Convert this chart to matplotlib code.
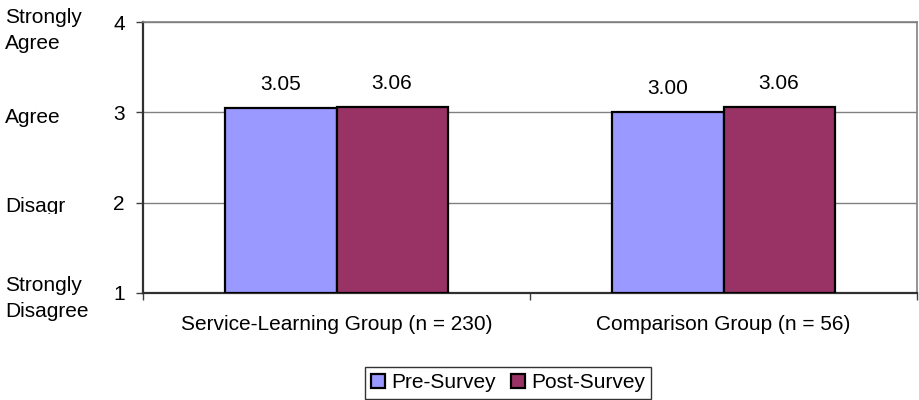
import matplotlib.pyplot as plt
import matplotlib.transforms as mtransforms
import numpy as np

# Survey means, pre vs post, per group
groups = ['Service-Learning Group (n = 230)', 'Comparison Group (n = 56)']
pre_survey = [3.05, 3.00]
post_survey = [3.06, 3.06]
series_names = ['Pre-Survey', 'Post-Survey']
scale_ticks = [1, 2, 3, 4]
scale_words = ['Strongly\nDisagree', 'Disagr', 'Agree', 'Strongly\nAgree']

plt.rcParams['font.family'] = ['Liberation Sans', 'DejaVu Sans']
plt.rcParams['font.size'] = 15

fig = plt.figure(figsize=(9.19, 4.0), dpi=100)
ax = fig.add_axes([143 / 919, 1 - 293 / 400, 774 / 919, 271 / 400])

x = np.arange(len(groups))
w = 0.287
bars_pre = ax.bar(x - w / 2, np.array(pre_survey) - 1, w, bottom=1, color='#9999FF',
                  edgecolor='black', linewidth=1.6, label=series_names[0], zorder=3)
bars_post = ax.bar(x + w / 2, np.array(post_survey) - 1, w, bottom=1, color='#993366',
                   edgecolor='black', linewidth=1.6, label=series_names[1], zorder=3)

# value labels above each bar
for xs, vals in [(x - w / 2, pre_survey), (x + w / 2, post_survey)]:
    for xi, v in zip(xs, vals):
        ax.annotate(f'{v:.2f}', (xi, v), xytext=(0, 17), textcoords='offset points',
                    ha='center', va='center', fontsize=15)

ax.set_xlim(-0.5, 1.5)
ax.set_ylim(1, 4)
ax.set_yticks(scale_ticks)
ax.yaxis.grid(True, color='#808080', linewidth=1.0, zorder=0)
ax.tick_params(axis='y', length=5, width=1, color='#404040', pad=8, labelsize=15)

# category boundaries get the tick marks, names sit in between
ax.set_xticks([-0.5, 0.5, 1.5])
ax.set_xticklabels(['', '', ''])
ax.set_xticks(x, minor=True)
ax.set_xticklabels(groups, minor=True)
ax.tick_params(axis='x', which='major', length=5, width=1, color='#404040')
ax.tick_params(axis='x', which='minor', length=0, pad=16, labelsize=15)

for side in ['left', 'bottom']:
    ax.spines[side].set_color('#303030')
    ax.spines[side].set_linewidth(1.6)
for side in ['top', 'right']:
    ax.spines[side].set_color('#808080')
    ax.spines[side].set_linewidth(1.2)

# agreement words next to the numeric scale
tr = mtransforms.blended_transform_factory(fig.transFigure, ax.transData)
for t, word in zip(scale_ticks, scale_words):
    dy = -0.09 if t == 4 else (-0.045 if t == 2 else -0.06)
    txt = fig.text(5 / 919, t + dy, word, ha='left', va='center', fontsize=15,
                   linespacing=1.45, transform=tr)
    if word == 'Disagr':
        # the short label is cut off right at its baseline
        txt.set_clip_box(mtransforms.Bbox.from_extents(0, 400 - 213.5, 150, 400))
        txt.set_clip_on(True)

leg = fig.legend(handles=[bars_pre, bars_post], loc='upper center',
                 bbox_to_anchor=(508 / 919, 1 - 367 / 400), ncol=2, frameon=True,
                 fancybox=False, edgecolor='black', fontsize=15, handlelength=0.65,
                 handleheight=0.65, handletextpad=0.3, columnspacing=0.75,
                 borderpad=0.3, borderaxespad=0)
leg.get_frame().set_linewidth(1.0)

fig.savefig('out.png', dpi=100)
